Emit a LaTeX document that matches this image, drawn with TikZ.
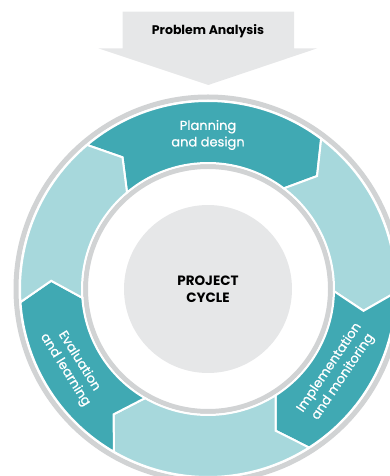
\documentclass[tikz,border=0pt]{standalone}
\usepackage{fontspec}
\setmainfont{Poppins}
\newfontfamily\cyclabelfont[FakeBold=0.7]{Poppins}
\definecolor{cycdark}{HTML}{40A9B3}
\definecolor{cyclight}{HTML}{A7D8DC}
\definecolor{ringgray}{HTML}{D1D3D4}
\definecolor{discgray}{HTML}{E6E7E8}
\def\cRo{188}
\def\cRi{126}
\def\cRt{157}
\newcommand\cycseg[3]{%
  \filldraw[segstyle, fill=#1] (#2:\cRo) arc[start angle=#2, end angle=#3, radius=\cRo]
    -- ({#3-7}:\cRt) -- (#3:\cRi) arc[start angle=#3, end angle=#2, radius=\cRi]
    -- ({#2-7}:\cRt) -- cycle;}
\tikzset{
  segstyle/.style={draw=white, line width=2pt, line join=miter},
  ringstyle/.style={draw=ringgray, line width=5pt},
  whitelabel/.style={text=white, align=center, inner sep=0pt, font=\cyclabelfont\fontsize{13}{16.5}\selectfont},
  blacklabel/.style={text=black, align=center, inner sep=0pt, font=\bfseries\fontsize{12.5}{16}\selectfont},
}
\begin{document}
\begin{tikzpicture}[x=1pt,y=1pt]
\useasboundingbox (0,0) rectangle (390,476);
\clip (0,0) rectangle (390,476);
\coordinate (C) at (208,187);
% problem analysis arrow
\fill[discgray] (122.7,464.3) -- (294,464.3) -- (294,427.7) -- (317.3,427.7)
  -- (208.3,391) -- (98.3,427.7) -- (122.7,427.7) -- cycle;
\node[blacklabel] (pa) at (208,445) {Problem Analysis};
\begin{scope}[shift={(C)}]
  \draw[ringstyle] (0,0) circle[radius=192];
  \draw[ringstyle] (0,0) circle[radius=122.5];
  \node[circle, fill=discgray, minimum size=168pt, inner sep=0pt] (disc) at (0,0) {};
  \node[blacklabel, font=\bfseries\fontsize{13.5}{16.5}\selectfont] (pc) at (0,0) {PROJECT\\CYCLE};
  \cycseg{cycdark}{130}{53}
  \cycseg{cyclight}{53}{-1}
  \cycseg{cycdark}{-1}{-57.5}
  \cycseg{cyclight}{-57.5}{-120}
  \cycseg{cycdark}{-120}{-176}
  \cycseg{cyclight}{-176}{-230}
  \node[whitelabel] (plan) at (90:154) {Planning\\and design};
  \node[whitelabel, rotate=56] (impl) at (-33:153) {Implementation\\and monitoring};
  \node[whitelabel, rotate=-58] (eval) at (-150.6:156) {Evaluation\\and learning};
\end{scope}
\end{tikzpicture}
\end{document}
